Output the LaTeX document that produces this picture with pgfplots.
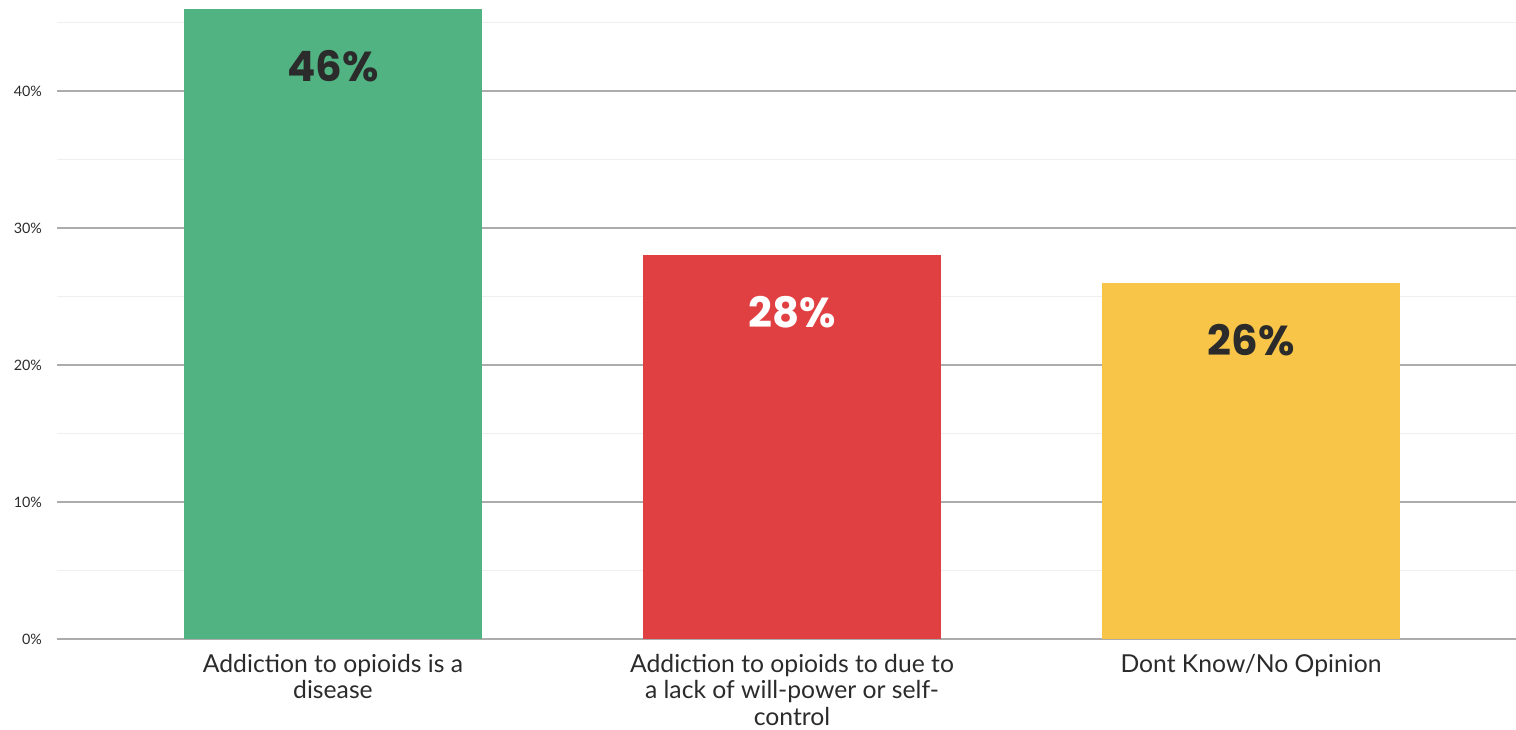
\documentclass[border=0pt]{standalone}
\usepackage{fontspec}
\setmainfont{Lato}
\newfontfamily\valfont{Poppins}
\usepackage{pgfplots}
\pgfplotsset{compat=1.18}
\usetikzlibrary{calc}
\definecolor{cgreen}{HTML}{52B382}
\definecolor{cred}{HTML}{E14042}
\definecolor{cyellow}{HTML}{F8C548}
\definecolor{ctext}{HTML}{2B2B2B}
\definecolor{cmajor}{HTML}{ACACAC}
\definecolor{cminor}{HTML}{EFEFEF}
\begin{document}
\begin{tikzpicture}
\begin{axis}[
  name=ax,
  scale only axis,
  width=729.5bp, height=319.5bp,
  xmin=-0.6013, xmax=2.5773,
  ymin=0, ymax=46.64,
  ybar, bar width=149bp, bar shift=0pt,
  axis line style={draw=none},
  major tick length=0pt, minor tick length=0pt,
  ytick={0,10,20,30,40},
  minor ytick={5,15,25,35,45},
  ymajorgrids, yminorgrids,
  major grid style={cmajor, line width=0.55bp},
  minor grid style={cminor, line width=0.55bp},
  /pgf/number format/assume math mode=true,
  yticklabel={\pgfmathprintnumber{\tick}\%},
  yticklabel style={font=\fontsize{7.2}{8}\selectfont, text=ctext, xshift=-4bp},
  xtick={0,1,2},
  xticklabels={{Addiction to opioids is a\\disease},{Addiction to opioids to due to\\a lack of will-power or self-\\control},{Dont Know/No Opinion}},
  xticklabel style={font=\fontsize{12.4}{13.3}\selectfont, text=ctext, align=center, anchor=north, yshift=-5.3bp, inner sep=2bp},
  nodes near coords={\pgfmathprintnumber{\pgfplotspointmeta}\%},
  nodes near coords style={font=\valfont\bfseries\fontsize{21}{23}\selectfont, anchor=center, yshift=-28.5bp},
  point meta=explicit,
]
\addplot[fill=cgreen, draw=none, nodes near coords style={text=ctext}] coordinates {(0,46) [46]};
\addplot[fill=cred, draw=none, nodes near coords style={text=white}] coordinates {(1,28) [28]};
\addplot[fill=cyellow, draw=none, nodes near coords style={text=ctext}] coordinates {(2,26) [26]};
\end{axis}
\pgfresetboundingbox
\path[use as bounding box] ($(ax.south west)+(-28.5bp,-45.5bp)$) rectangle (ax.north east);
\end{tikzpicture}
\end{document}
